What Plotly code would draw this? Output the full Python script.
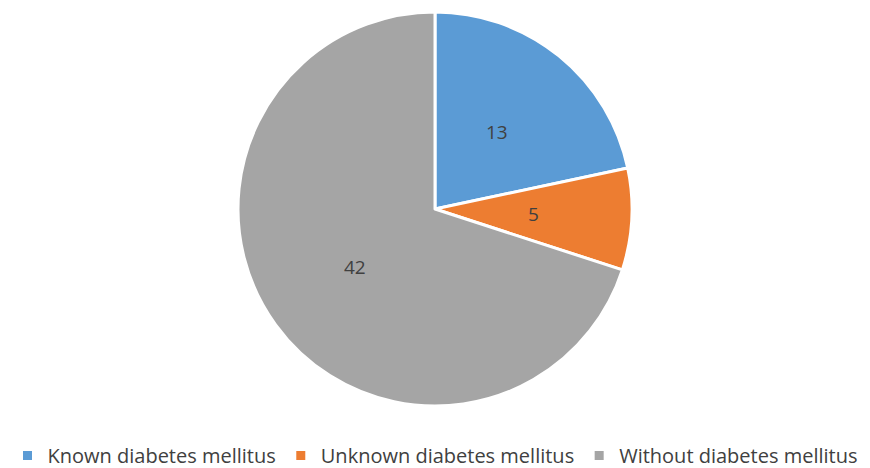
import math
import plotly.graph_objects as go

labels = ["Known diabetes mellitus", "Unknown diabetes mellitus", "Without diabetes mellitus"]
values = [13, 5, 42]
colors = ["#5B9BD5", "#ED7D31", "#A5A5A5"]

W, H = 870, 468

# pie placement in pixels
left, right, top, bottom = 238, 632, 12, 406
cx_px, cy_px = (left + right) / 2, (top + bottom) / 2
radius = (bottom - top) / 2

fig = go.Figure(
    go.Pie(
        labels=labels,
        values=values,
        sort=False,
        direction="clockwise",
        rotation=0,
        marker=dict(colors=colors, line=dict(color="white", width=3)),
        textinfo="none",
        domain=dict(x=[left / W, right / W], y=[(H - bottom) / H, (H - top) / H]),
        hoverinfo="label+value",
    )
)

# value labels at half radius along each slice's bisector (clockwise from 12 o'clock)
total = sum(values)
cum = 0
for v in values:
    mid = (cum + v / 2) / total * 2 * math.pi
    cum += v
    x_px = cx_px + 0.5 * radius * math.sin(mid)
    y_px = cy_px - 0.5 * radius * math.cos(mid)
    fig.add_annotation(
        x=x_px / W,
        y=1 - y_px / H,
        xref="paper",
        yref="paper",
        xanchor="center",
        yanchor="middle",
        text=str(v),
        showarrow=False,
        font=dict(family="Open Sans, Liberation Sans, sans-serif", size=19, color="#404040"),
    )

fig.update_layout(
    width=W,
    height=H,
    margin=dict(l=0, r=0, t=0, b=0, autoexpand=False),
    paper_bgcolor="white",
    plot_bgcolor="white",
    showlegend=True,
    legend=dict(
        orientation="h",
        x=0.5,
        xanchor="center",
        y=-0.015,
        yanchor="bottom",
        font=dict(family="Open Sans, Liberation Sans, sans-serif", size=20, color="#404040"),
        itemwidth=30,
        traceorder="normal",
    ),
)

fig.write_html("out.html")
